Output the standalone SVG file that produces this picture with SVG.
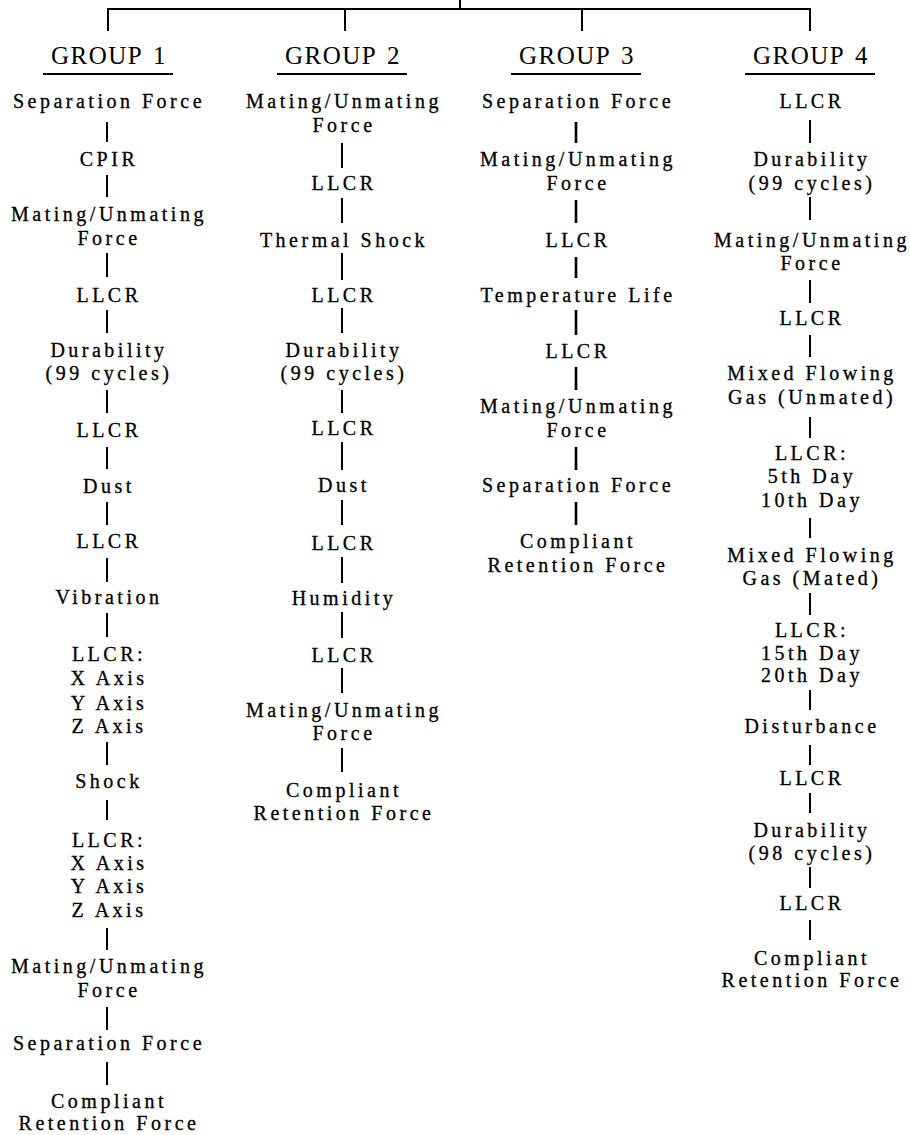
<svg xmlns="http://www.w3.org/2000/svg" width="910" height="1135" viewBox="0 0 910 1135">
<style>
.t{font-family:"Liberation Serif",serif;font-size:20px;letter-spacing:3.5px;text-anchor:middle;fill:#000;stroke:#000;stroke-width:0.3px}
.h{font-family:"Liberation Serif",serif;font-size:25px;letter-spacing:1.5px;word-spacing:3px;text-anchor:middle;fill:#000}
.c{stroke:#000;stroke-width:2;fill:none}
.c3{stroke:#000;stroke-width:2.6;fill:none}
.u{stroke:#000;stroke-width:2.2}
</style>
<rect width="910" height="1135" fill="#fff"/>
<g id="connectors">
<path class="c" d="M460 0V9M107 9H811M108 9V31M345 9V31M582 9V31M810 9V31"/>
<path class="c" d="M107 122V142M107 175V197M107 253V277M107 310V333M107 390V413M107 447V469M107 502V525M107 558V582M107 613V637M107 742V765M107 800V820M107 928V950M107 1007V1030M107 1062V1085"/>
<path class="c" d="M342 143V168M342 198V223M342 253V280M342 308V333M342 390V413M342 442V470M342 500V525M342 557V583M342 612V638M342 668V693M342 748V772"/>
<path class="c3" d="M576 122V143M576 200V223M576 257V278M576 310V335M576 367V390M576 447V470M576 502V525"/>
<path class="c" d="M810 120V143M810 197V220M810 280V303M810 335V357M810 417V438M810 518V538M810 593V615M810 690V710M810 745V765M810 793V813M810 867V888M810 920V940"/>
</g>
<g id="group1"><text class="h" x="109" y="64">GROUP 1</text><line class="u" x1="43" y1="74" x2="173" y2="74"/></g>
<g id="group2"><text class="h" x="343" y="64">GROUP 2</text><line class="u" x1="277" y1="74" x2="407" y2="74"/></g>
<g id="group3"><text class="h" x="577" y="64">GROUP 3</text><line class="u" x1="511" y1="74" x2="641" y2="74"/></g>
<g id="group4"><text class="h" x="811" y="64">GROUP 4</text><line class="u" x1="745" y1="74" x2="875" y2="74"/></g>

<g id="g1n1"><text class="t" x="109" y="108">Separation Force</text></g>
<g id="g1n2"><text class="t" x="109" y="166">CPIR</text></g>
<g id="g1n3"><text class="t" x="109" y="221">Mating/Unmating<tspan x="109" y="245">Force</tspan></text></g>
<g id="g1n4"><text class="t" x="109" y="302">LLCR</text></g>
<g id="g1n5"><text class="t" x="109" y="357">Durability<tspan x="109" y="380">(99 cycles)</tspan></text></g>
<g id="g1n6"><text class="t" x="109" y="437">LLCR</text></g>
<g id="g1n7"><text class="t" x="109" y="493">Dust</text></g>
<g id="g1n8"><text class="t" x="109" y="548">LLCR</text></g>
<g id="g1n9"><text class="t" x="109" y="604">Vibration</text></g>
<g id="g1n10"><text class="t" x="109" y="661">LLCR:<tspan x="109" y="685">X Axis</tspan><tspan x="109" y="710">Y Axis</tspan><tspan x="109" y="733">Z Axis</tspan></text></g>
<g id="g1n11"><text class="t" x="109" y="788">Shock</text></g>
<g id="g1n12"><text class="t" x="109" y="847">LLCR:<tspan x="109" y="870">X Axis</tspan><tspan x="109" y="893">Y Axis</tspan><tspan x="109" y="917">Z Axis</tspan></text></g>
<g id="g1n13"><text class="t" x="109" y="973">Mating/Unmating<tspan x="109" y="997">Force</tspan></text></g>
<g id="g1n14"><text class="t" x="109" y="1050">Separation Force</text></g>
<g id="g1n15"><text class="t" x="109" y="1108">Compliant<tspan x="109" y="1130">Retention Force</tspan></text></g>

<g id="g2n1"><text class="t" x="344" y="108">Mating/Unmating<tspan x="344" y="132">Force</tspan></text></g>
<g id="g2n2"><text class="t" x="344" y="190">LLCR</text></g>
<g id="g2n3"><text class="t" x="344" y="247">Thermal Shock</text></g>
<g id="g2n4"><text class="t" x="344" y="302">LLCR</text></g>
<g id="g2n5"><text class="t" x="344" y="357">Durability<tspan x="344" y="380">(99 cycles)</tspan></text></g>
<g id="g2n6"><text class="t" x="344" y="435">LLCR</text></g>
<g id="g2n7"><text class="t" x="344" y="492">Dust</text></g>
<g id="g2n8"><text class="t" x="344" y="550">LLCR</text></g>
<g id="g2n9"><text class="t" x="344" y="605">Humidity</text></g>
<g id="g2n10"><text class="t" x="344" y="662">LLCR</text></g>
<g id="g2n11"><text class="t" x="344" y="717">Mating/Unmating<tspan x="344" y="740">Force</tspan></text></g>
<g id="g2n12"><text class="t" x="344" y="797">Compliant<tspan x="344" y="820">Retention Force</tspan></text></g>

<g id="g3n1"><text class="t" x="578" y="108">Separation Force</text></g>
<g id="g3n2"><text class="t" x="578" y="166">Mating/Unmating<tspan x="578" y="190">Force</tspan></text></g>
<g id="g3n3"><text class="t" x="578" y="247">LLCR</text></g>
<g id="g3n4"><text class="t" x="578" y="302">Temperature Life</text></g>
<g id="g3n5"><text class="t" x="578" y="358">LLCR</text></g>
<g id="g3n6"><text class="t" x="578" y="413">Mating/Unmating<tspan x="578" y="437">Force</tspan></text></g>
<g id="g3n7"><text class="t" x="578" y="492">Separation Force</text></g>
<g id="g3n8"><text class="t" x="578" y="548">Compliant<tspan x="578" y="572">Retention Force</tspan></text></g>

<g id="g4n1"><text class="t" x="812" y="108">LLCR</text></g>
<g id="g4n2"><text class="t" x="812" y="166">Durability<tspan x="812" y="190">(99 cycles)</tspan></text></g>
<g id="g4n3"><text class="t" x="812" y="247">Mating/Unmating<tspan x="812" y="270">Force</tspan></text></g>
<g id="g4n4"><text class="t" x="812" y="325">LLCR</text></g>
<g id="g4n5"><text class="t" x="812" y="380">Mixed Flowing<tspan x="812" y="404">Gas (Unmated)</tspan></text></g>
<g id="g4n6"><text class="t" x="812" y="460">LLCR:<tspan x="812" y="483">5th Day</tspan><tspan x="812" y="507">10th Day</tspan></text></g>
<g id="g4n7"><text class="t" x="812" y="562">Mixed Flowing<tspan x="812" y="585">Gas (Mated)</tspan></text></g>
<g id="g4n8"><text class="t" x="812" y="637">LLCR:<tspan x="812" y="660">15th Day</tspan><tspan x="812" y="682">20th Day</tspan></text></g>
<g id="g4n9"><text class="t" x="812" y="733">Disturbance</text></g>
<g id="g4n10"><text class="t" x="812" y="785">LLCR</text></g>
<g id="g4n11"><text class="t" x="812" y="837">Durability<tspan x="812" y="860">(98 cycles)</tspan></text></g>
<g id="g4n12"><text class="t" x="812" y="910">LLCR</text></g>
<g id="g4n13"><text class="t" x="812" y="965">Compliant<tspan x="812" y="987">Retention Force</tspan></text></g>
</svg>
